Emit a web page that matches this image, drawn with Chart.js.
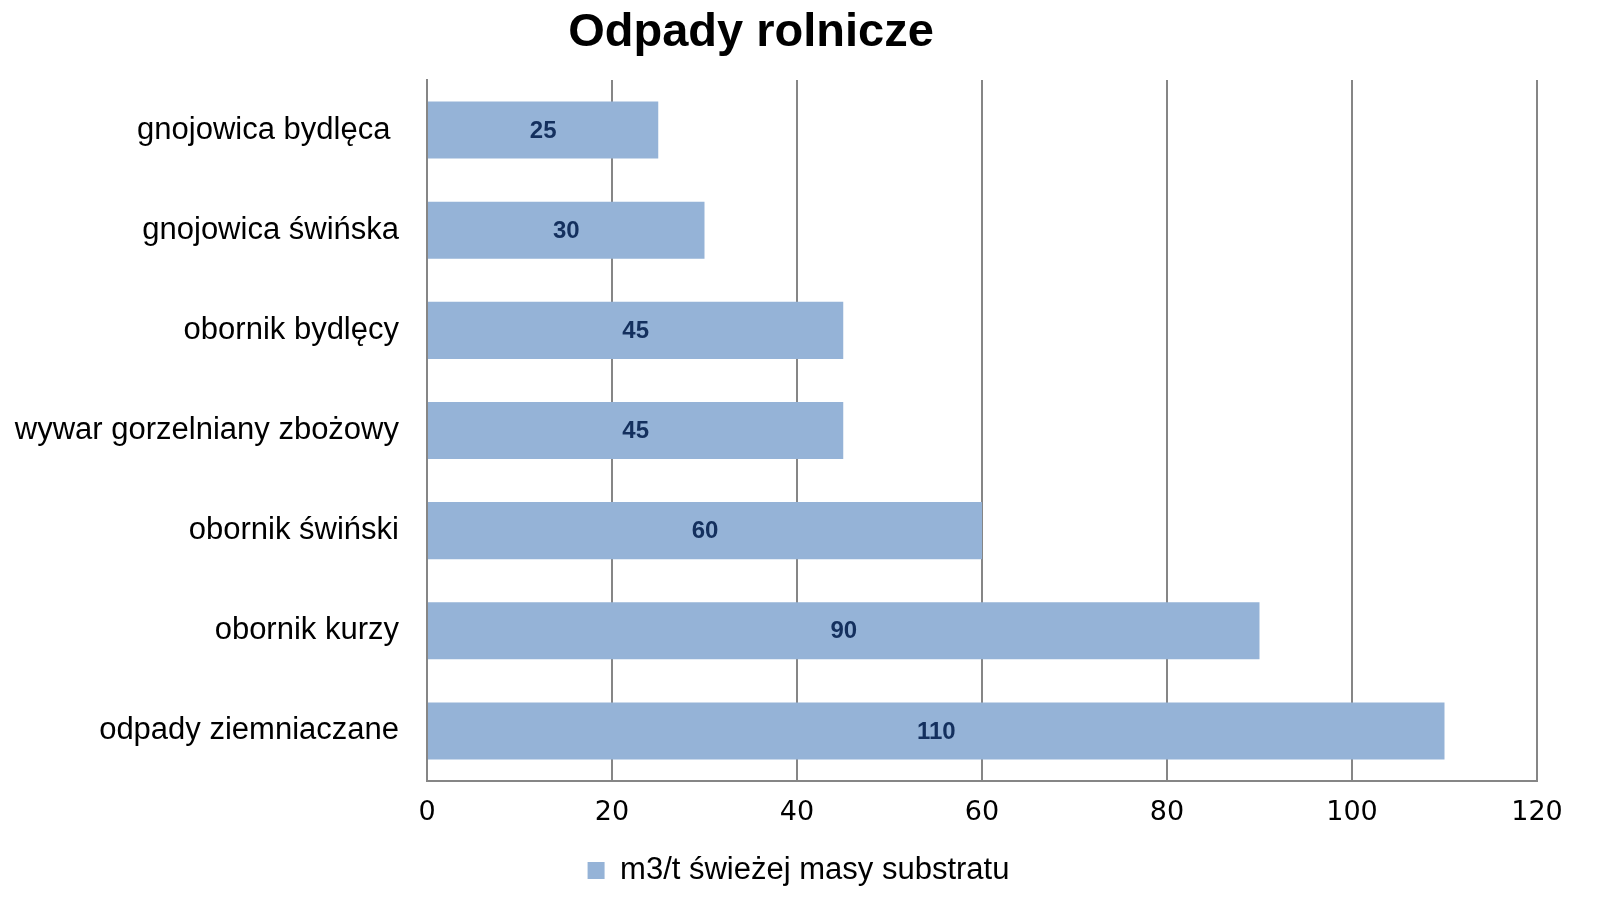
<!DOCTYPE html>
<html>
<head>
<meta charset="utf-8">
<script src="https://cdn.jsdelivr.net/npm/chart.js@4/dist/chart.umd.min.js"></script>
<style>
  html, body { margin: 0; padding: 0; background: #fff; }
  #wrap { width: 1606px; height: 910px; }
</style>
</head>
<body>
<div id="wrap"><canvas id="chart" width="1606" height="910"></canvas></div>
<script>
const categories = ['gnojowica bydlęca ', 'gnojowica świńska', 'obornik bydlęcy', 'wywar gorzelniany zbożowy', 'obornik świński', 'obornik kurzy', 'odpady ziemniaczane'];
const values = [25, 30, 45, 45, 60, 90, 110];
const seriesName = 'm3/t świeżej masy substratu';
const chartTitle = 'Odpady rolnicze';

const ctx = document.getElementById('chart');

// value labels in the middle of each bar + title drawn a bit left of the canvas centre
const extras = {
    id: 'extras',
    afterLayout(chart) {
        // legend sits a little right of the plot centre in the original
        chart.legend.left += 30;
        chart.legend.right += 30;
    },
    afterDatasetsDraw(chart) {
        const c = chart.ctx;
        const meta = chart.getDatasetMeta(0);
        c.save();
        c.font = 'bold 24px "Liberation Sans", Arial, sans-serif';
        c.fillStyle = '#14305e';
        c.textAlign = 'center';
        c.textBaseline = 'middle';
        meta.data.forEach((bar, i) => {
            c.fillText(values[i], (bar.base + bar.x) / 2, bar.y + 1);
        });
        c.font = 'bold 47px "Liberation Sans", Arial, sans-serif';
        c.fillStyle = '#000';
        c.fillText(chartTitle, 751, 33);
        c.restore();
    }
};

new Chart(ctx, {
    type: 'bar',
    data: {
        labels: categories,
        datasets: [{
            label: seriesName,
            data: values,
            backgroundColor: '#95b3d7',
            borderWidth: 0,
            barPercentage: 0.57,
            categoryPercentage: 1
        }]
    },
    options: {
        indexAxis: 'y',
        responsive: false,
        animation: false,
        layout: { padding: { left: 0, right: 69, top: 80, bottom: 14 } },
        plugins: {
            title: { display: false },
            legend: {
                position: 'bottom',
                labels: {
                    color: '#000',
                    font: { family: '"Liberation Sans", Arial, sans-serif', size: 31 },
                    boxWidth: 17,
                    boxHeight: 17,
                    padding: 8
                }
            },
            tooltip: { enabled: false }
        },
        scales: {
            x: {
                min: 0,
                max: 120,
                ticks: {
                    stepSize: 20,
                    color: '#000',
                    padding: 16,
                    font: { family: '"DejaVu Sans", sans-serif', size: 27 }
                },
                grid: { color: '#868686', lineWidth: 2, drawTicks: false },
                border: { display: true, color: '#868686', width: 2 },
                afterFit(scale) { scale.height = 66; }
            },
            y: {
                ticks: {
                    color: '#000',
                    padding: 28,
                    font: { family: '"Liberation Sans", Arial, sans-serif', size: 31 }
                },
                grid: { display: false, drawTicks: false },
                border: { display: true, color: '#868686', width: 2 },
                afterFit(scale) { scale.width = 427; }
            }
        }
    },
    plugins: [extras]
});
</script>
</body>
</html>
